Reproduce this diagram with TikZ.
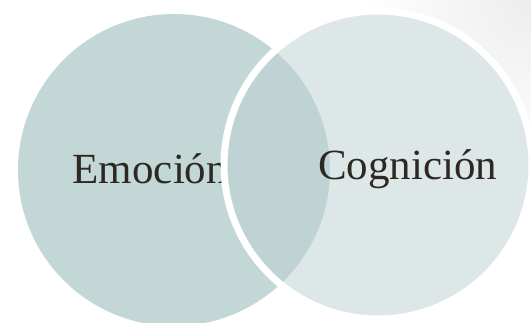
\documentclass[tikz,border=0pt]{standalone}
\usepackage{fontspec}
\setmainfont{Liberation Serif}
\usepackage{tikz}
\definecolor{emocionfill}{RGB}{196,215,215}
\definecolor{cognicionfill}{RGB}{221,231,232}
\definecolor{overlapfill}{RGB}{191,211,212}
\definecolor{textdark}{RGB}{45,41,34}
\tikzset{
    venn text/.style={anchor=base west,inner sep=0pt,text=textdark,font=\fontsize{43}{50}\selectfont},
}

\begin{document}
\begin{tikzpicture}[x=1pt,y=-1pt]
	\useasboundingbox (0,0) rectangle (531,322);
	\begin{scope}
		\clip (0,0) rectangle (531,322);
		\shade[inner color=black!7, outer color=white] (531,0) circle (170);
	\end{scope}
	\fill[emocionfill] (174,170) circle (156);
	\node[venn text] (emo) at (72.5,183) {Emoción};
	\fill[cognicionfill] (378,165) circle (154);
	\begin{scope}
		\clip (174,170) circle (156);
		\fill[overlapfill] (378,165) circle (154);
	\end{scope}
	\draw[white,line width=7pt] (378,165) circle (154);
	\node[venn text] (cog) at (318,179) {Cognición};
\end{tikzpicture}
\end{document}
